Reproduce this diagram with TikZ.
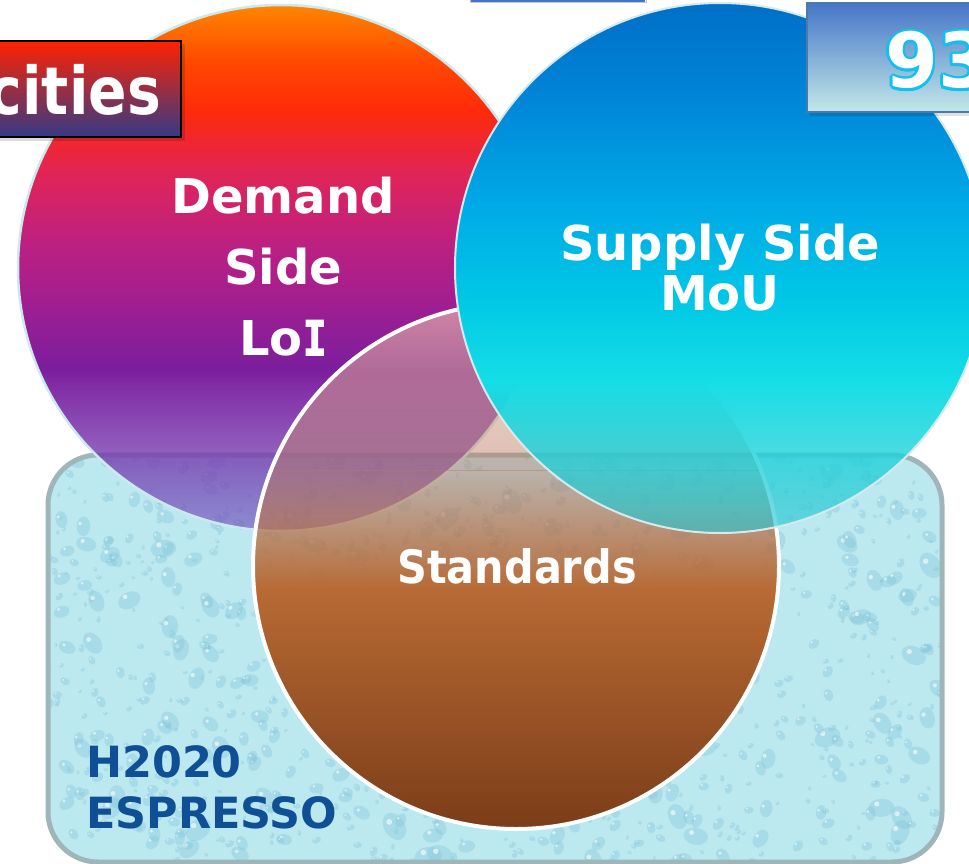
\documentclass[tikz,border=0pt]{standalone}
\usepackage{fontspec}
\setmainfont{DejaVu Sans}
\newfontfamily\narrowfont{DejaVu Sans}[FakeStretch=0.9]
\newfontfamily\cityfont{DejaVu Sans}[FakeStretch=0.86]
\newfontfamily\serifI{DejaVu Sans Mono}[FakeStretch=0.82, FakeBold=2.5]
\usetikzlibrary{fadings,calc}
\definecolor{water}{HTML}{BCE8F0}
\definecolor{dropc}{HTML}{7FC2D6}
\definecolor{rectborder}{HTML}{9FB5B8}
\definecolor{espblue}{HTML}{0F4F96}
\definecolor{ninecyan}{HTML}{10C0EE}
\tikzfading[name=stdfadeA, top color=transparent!40, middle color=transparent!78, bottom color=transparent!52]
\tikzfading[name=stdfadeB, top color=transparent!52, bottom color=transparent!0]
\tikzfading[name=lowfade, top color=transparent!0, bottom color=transparent!42]
\tikzset{
  bigtext/.style={text=white, inner sep=0pt, font=\bfseries\fontsize{48}{71}\selectfont, align=center},
}
\begin{document}
\begin{tikzpicture}[x=1pt,y=-1pt]
\useasboundingbox (0,0) rectangle (969,864);
% ---------- water rounded rectangle ----------
\begin{scope}
  \clip[rounded corners=50pt] (48,455) rectangle (942,862);
  \fill[water] (48,455) rectangle (942,862);
  \pgfmathsetseed{11}
  \foreach \i in {1,...,1100}{
    \pgfmathsetmacro\dx{40+rnd*910}
    \pgfmathsetmacro\dy{450+rnd*415}
    \pgfmathsetmacro\rr{2+rnd*rnd*13}
    \pgfmathsetmacro\ang{rnd*180}
    \fill[dropc, opacity=0.33, rotate around={\ang:(\dx,\dy)}] (\dx,\dy) ellipse[x radius=\rr pt, y radius=0.7*\rr pt];
    \fill[white, opacity=0.6] ($(\dx,\dy)+(-0.35*\rr,-0.3*\rr)$) circle[radius=0.2*\rr pt];
  }
\end{scope}
\draw[line width=5pt, draw=rectborder, rounded corners=50pt] (48,455) rectangle (942,862);
% ---------- top centre box edge ----------
\draw[gray!45, fill=white] (470,-6) rectangle (646,2);
\draw[line width=2pt, color={rgb,255:red,68;green,114;blue,196}] (471,1) -- (645,1);
% ---------- Demand circle ----------
\coordinate (dc) at (281,268);
\begin{scope}
  \clip (dc) circle[radius=263pt];
  \shade[top color={rgb,255:red,255;green,140;blue,0}, bottom color={rgb,255:red,255;green,74;blue,0}] (0,0) rectangle (560,61);
  \shade[top color={rgb,255:red,255;green,74;blue,0}, bottom color={rgb,255:red,255;green,42;blue,10}] (0,60) rectangle (560,111);
  \shade[top color={rgb,255:red,255;green,42;blue,10}, bottom color={rgb,255:red,224;green,36;blue,88}] (0,110) rectangle (560,176);
  \shade[top color={rgb,255:red,224;green,36;blue,88}, bottom color={rgb,255:red,190;green,32;blue,128}] (0,175) rectangle (560,241);
  \shade[top color={rgb,255:red,190;green,32;blue,128}, bottom color={rgb,255:red,162;green,30;blue,144}] (0,240) rectangle (560,301);
  \shade[top color={rgb,255:red,162;green,30;blue,144}, bottom color={rgb,255:red,122;green,30;blue,158}] (0,300) rectangle (560,371);
  \shade[top color={rgb,255:red,122;green,30;blue,158}, bottom color={rgb,255:red,128;green,40;blue,162}] (0,370) rectangle (560,381);
  \shade[top color={rgb,255:red,128;green,40;blue,162}, bottom color={rgb,255:red,110;green,80;blue,190}, path fading=lowfade] (0,380) rectangle (560,540);
\end{scope}
\draw[line width=2.5pt, color={rgb,255:red,205;green,233;blue,238}] (dc) circle[radius=263pt];
% ---------- Standards circle ----------
\coordinate (sc) at (516,566);
\begin{scope}
  \clip (sc) circle[radius=263pt];
  \shade[top color={rgb,255:red,244;green,204;blue,186}, bottom color={rgb,255:red,184;green,122;blue,96}, path fading=stdfadeA] (250,300) rectangle (782,470);
  \shade[top color={rgb,255:red,184;green,122;blue,96}, bottom color={rgb,255:red,184;green,106;blue,52}, path fading=stdfadeB] (250,470) rectangle (782,590);
  \shade[top color={rgb,255:red,184;green,106;blue,52}, middle color={rgb,255:red,168;green,90;blue,42}, bottom color={rgb,255:red,122;green,60;blue,24}] (250,589.5) rectangle (782,832);
\end{scope}
\draw[white, line width=4pt] (sc) circle[radius=263pt];
% ---------- Supply circle ----------
\coordinate (pc) at (720,268);
\begin{scope}
  \clip (pc) circle[radius=265pt];
  \shade[top color={rgb,255:red,0;green,110;blue,198}, bottom color={rgb,255:red,0;green,134;blue,216}] (450,0) rectangle (990,101);
  \shade[top color={rgb,255:red,0;green,134;blue,216}, bottom color={rgb,255:red,0;green,168;blue,230}] (450,100) rectangle (990,201);
  \shade[top color={rgb,255:red,0;green,168;blue,230}, bottom color={rgb,255:red,0;green,200;blue,230}] (450,200) rectangle (990,301);
  \shade[top color={rgb,255:red,0;green,200;blue,230}, bottom color={rgb,255:red,22;green,222;blue,230}] (450,300) rectangle (990,381);
  \shade[top color={rgb,255:red,22;green,222;blue,230}, bottom color={rgb,255:red,40;green,196;blue,206}, path fading=lowfade] (450,380) rectangle (990,540);
\end{scope}
\draw[line width=2pt, color={rgb,255:red,214;green,234;blue,238}] (pc) circle[radius=265pt];
% ---------- cities box ----------
\fill[black, opacity=0.15] (-20,44) rectangle (185,141);
\shade[top color={rgb,255:red,255;green,34;blue,0}, middle color={rgb,255:red,128;green,64;blue,164}, bottom color={rgb,255:red,52;green,58;blue,134}] (-20,41) rectangle (181,137);
\draw[black, line width=2.5pt] (-20,41) rectangle (181,137);
\node[text=white, inner sep=0pt, anchor=base east, font=\cityfont\bfseries\fontsize{66}{70}\selectfont] (cities) at (161,115) {cities};
% ---------- 93 box ----------
\fill[black, opacity=0.12] (810,6) rectangle (990,116);
\shade[top color={rgb,255:red,70;green,118;blue,200}, bottom color={rgb,255:red,194;green,232;blue,232}] (807,3) rectangle (990,112);
\draw[line width=1.5pt, color={rgb,255:red,74;green,122;blue,168}] (807,3) rectangle (990,112);
\coordinate (nb) at (885,88);
\foreach \a in {0,30,...,330}{
  \node[text=ninecyan, inner sep=0pt, anchor=base west, font=\bfseries\fontsize{76}{80}\selectfont] (o\a) at ($(nb)+(\a:2.4pt)$) {93};
}
\node[text=white, inner sep=0pt, anchor=base west, font=\bfseries\fontsize{76}{80}\selectfont] (nine) at (nb) {93};
% ---------- labels ----------
\node[bigtext, anchor=north] (demand) at (283,176.5) {Demand\\Side\\Lo{\serifI I}};
\node[bigtext, anchor=north, font=\bfseries\fontsize{48}{50}\selectfont] (supply) at (720,223.5) {Supply Side\\MoU};
\node[text=white, inner sep=0pt, anchor=base, font=\narrowfont\bfseries\fontsize{46}{50}\selectfont] (standards) at (517,583) {Standards};
\node[text=espblue, inner sep=0pt, anchor=north west, align=left, font=\bfseries\fontsize{43}{51}\selectfont] (espresso) at (86,745.7) {H2020\\ESPRESSO};
\end{tikzpicture}
\end{document}
